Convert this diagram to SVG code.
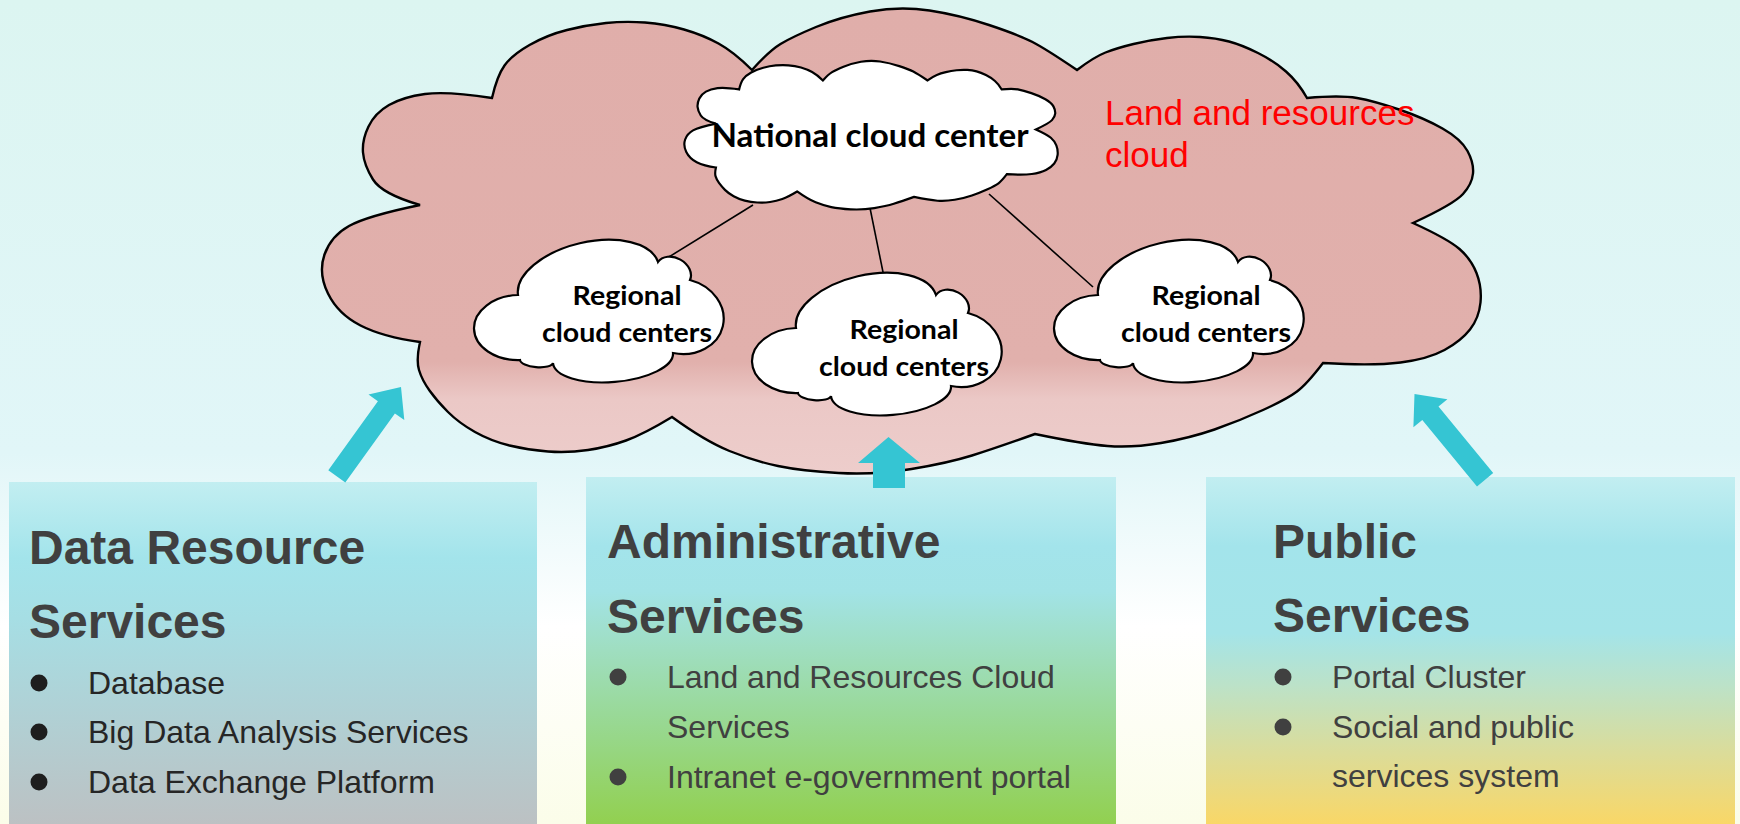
<svg xmlns="http://www.w3.org/2000/svg" width="1740" height="824" viewBox="0 0 1740 824">
<defs>
<linearGradient id="bg" x1="0" y1="0" x2="0" y2="1">
<stop offset="0" stop-color="#dcf5f1"/>
<stop offset="0.55" stop-color="#e1f6f8"/>
<stop offset="0.76" stop-color="#ffffff"/>
<stop offset="1" stop-color="#fbfde9"/>
</linearGradient>
<linearGradient id="bigFill" gradientUnits="userSpaceOnUse" x1="0" y1="7" x2="0" y2="474">
<stop offset="0" stop-color="#e0aeaa"/>
<stop offset="0.76" stop-color="#e1b0ac"/>
<stop offset="0.84" stop-color="#ebc8c6"/>
<stop offset="1" stop-color="#edcdcb"/>
</linearGradient>
<linearGradient id="g1" x1="0" y1="0" x2="0" y2="1">
<stop offset="0" stop-color="#c2eef1"/>
<stop offset="0.22" stop-color="#a3e4eb"/>
<stop offset="0.4" stop-color="#a6dee4"/>
<stop offset="1" stop-color="#bcc1c3"/>
</linearGradient>
<linearGradient id="g2" x1="0" y1="0" x2="0" y2="1">
<stop offset="0" stop-color="#c2eef1"/>
<stop offset="0.2" stop-color="#a3e4eb"/>
<stop offset="0.33" stop-color="#a2e3e6"/>
<stop offset="0.5" stop-color="#9fdec0"/>
<stop offset="0.75" stop-color="#97d789"/>
<stop offset="1" stop-color="#92d050"/>
</linearGradient>
<linearGradient id="g3" x1="0" y1="0" x2="0" y2="1">
<stop offset="0" stop-color="#c2eef1"/>
<stop offset="0.2" stop-color="#a3e4eb"/>
<stop offset="0.45" stop-color="#a4e4e8"/>
<stop offset="0.6" stop-color="#bce2c8"/>
<stop offset="0.8" stop-color="#dcdc98"/>
<stop offset="1" stop-color="#f9d767"/>
</linearGradient>
<path id="cloudShape" d="M 420,342 Q 383,337 360.5,325.5 Q 338,314 328,293.5 Q 318,273 324.5,254.5 Q 331,236 349,226 Q 367,216 420,205 Q 382,194 373,179.5 Q 364,165 363,152.5 Q 362,140 368.5,126.5 Q 375,113 389,105 Q 403,97 425,94 Q 447,91 492,98 Q 497,76 504.5,65.5 Q 512,55 529.5,45 Q 547,35 567,30 Q 587,25 606,23 Q 625,21 645,22.5 Q 665,24 684,29.5 Q 703,35 718.5,43.5 Q 734,52 752,70 Q 769,51 780.5,44 Q 792,37 816,27 Q 840,17 870,11.5 Q 900,6 929.5,10.5 Q 959,15 989,25 Q 1019,35 1032.5,42 Q 1046,49 1077,70 Q 1094,57 1105.5,52.5 Q 1117,48 1133.5,44 Q 1150,40 1167,38 Q 1184,36 1200,37 Q 1216,38 1229,41.5 Q 1242,45 1258,53 Q 1274,61 1286,71.5 Q 1298,82 1307,98 Q 1340,95 1357,98 Q 1374,101 1399,109.5 Q 1424,118 1442.5,128.5 Q 1461,139 1467.5,151 Q 1474,163 1473,173.5 Q 1472,184 1463,194 Q 1454,204 1413,223 Q 1448,239 1459.5,249 Q 1471,259 1476.5,273 Q 1482,287 1480.5,302.5 Q 1479,318 1470,329.5 Q 1461,341 1444.5,350 Q 1428,359 1400.5,362.5 Q 1373,366 1323,363 Q 1307,384 1297,391.5 Q 1287,399 1263,410 Q 1239,421 1214.5,429.5 Q 1190,438 1161,443 Q 1132,448 1107.5,446 Q 1083,444 1035,434 Q 996,448 972,455.5 Q 948,463 911.5,469 Q 875,475 838.5,473 Q 802,471 778,466 Q 754,461 729.5,451 Q 705,441 672,417 Q 644,434 626,440.5 Q 608,447 588,450 Q 568,453 548,451.5 Q 528,450 509.5,445.5 Q 491,441 475,432 Q 459,423 448,412 Q 437,401 429.5,390.5 Q 422,380 419,370 Q 416,360 420,342 Z"/>
<path id="regCloud" d="M 44,53 A 72 38 -13.3 0 1 184,20 A 18.4 14 29.4 0 1 216,38 A 37.5 44 103.1 0 1 199,111 A 60.2 24 175.2 0 1 79,121 A 16.6 6 185.2 0 1 46,118 A 32.5 45 268.2 0 1 44,53 Z"/>
</defs>
<style>
.cloud{fill:#ffffff;stroke:#000000;stroke-width:2.2}
.ctext{font-family:Lato,"Open Sans","Liberation Sans",sans-serif;font-weight:bold;fill:#000000;text-anchor:middle}
.title{font-family:"Liberation Sans",Arial,sans-serif;font-weight:bold;font-size:48px;fill:#404040}
.item{font-family:"Liberation Sans",Arial,sans-serif;font-size:32px;fill:#404040}
.item1{font-family:"Liberation Sans",Arial,sans-serif;font-size:32px;fill:#262626}
.dot{fill:#404040}
.dot1{fill:#1e1e1e}
.arrow{fill:#35c5d3}
.link{stroke:#000000;stroke-width:1.6;fill:none}
.red{font-family:"Liberation Sans",Arial,sans-serif;font-size:35px;fill:#ff0000}
</style>
<rect x="0" y="0" width="1740" height="824" fill="url(#bg)"/>

<g id="land-resources-cloud">
<use href="#cloudShape" fill="url(#bigFill)" stroke="#000000" stroke-width="2.4"/>
<text class="red" x="1105" y="125">Land and resources</text>
<text class="red" x="1105" y="167">cloud</text>
</g>

<g id="connectors">
<line class="link" x1="753" y1="205" x2="664" y2="260"/>
<line class="link" x1="870" y1="208" x2="884" y2="277"/>
<line class="link" x1="989" y1="194" x2="1093" y2="287"/>
</g>

<g id="national-cloud-center">
<use href="#cloudShape" transform="translate(580.6,58.1) scale(0.3222,0.3198)" fill="#ffffff" stroke="#000000" stroke-width="6.8"/>
<text class="ctext" x="870" y="147" font-size="32" textLength="317" lengthAdjust="spacingAndGlyphs">National cloud center</text>
</g>

<g id="regional-left" transform="translate(474,242)">
<use href="#regCloud" class="cloud"/>
<text class="ctext" x="153" y="63" font-size="27" textLength="109" lengthAdjust="spacingAndGlyphs">Regional</text>
<text class="ctext" x="153" y="100" font-size="27" textLength="170" lengthAdjust="spacingAndGlyphs">cloud centers</text>
</g>

<g id="regional-middle" transform="translate(752,275)">
<use href="#regCloud" class="cloud"/>
<text class="ctext" x="152" y="64" font-size="27" textLength="109" lengthAdjust="spacingAndGlyphs">Regional</text>
<text class="ctext" x="152" y="101" font-size="27" textLength="170" lengthAdjust="spacingAndGlyphs">cloud centers</text>
</g>

<g id="regional-right" transform="translate(1054,242)">
<use href="#regCloud" class="cloud"/>
<text class="ctext" x="152" y="63" font-size="27" textLength="109" lengthAdjust="spacingAndGlyphs">Regional</text>
<text class="ctext" x="152" y="100" font-size="27" textLength="170" lengthAdjust="spacingAndGlyphs">cloud centers</text>
</g>

<g id="data-resource-services">
<rect x="9" y="482" width="528" height="342" fill="url(#g1)"/>
<text class="title" x="29" y="564">Data Resource</text>
<text class="title" x="29" y="638">Services</text>
<circle class="dot1" cx="39" cy="683" r="8.5"/>
<circle class="dot1" cx="39" cy="732" r="8.5"/>
<circle class="dot1" cx="39" cy="782" r="8.5"/>
<text class="item1" x="88" y="694">Database</text>
<text class="item1" x="88" y="743">Big Data Analysis Services</text>
<text class="item1" x="88" y="793">Data Exchange Platform</text>
</g>

<g id="administrative-services">
<rect x="586" y="477" width="530" height="347" fill="url(#g2)"/>
<text class="title" x="607" y="558">Administrative</text>
<text class="title" x="607" y="633">Services</text>
<circle class="dot" cx="618" cy="677" r="8.5"/>
<circle class="dot" cx="618" cy="777" r="8.5"/>
<text class="item" x="667" y="688">Land and Resources Cloud</text>
<text class="item" x="667" y="738">Services</text>
<text class="item" x="667" y="788">Intranet e-government portal</text>
</g>

<g id="public-services">
<rect x="1206" y="477" width="529" height="347" fill="url(#g3)"/>
<text class="title" x="1273" y="558">Public</text>
<text class="title" x="1273" y="632">Services</text>
<circle class="dot" cx="1283" cy="677" r="8.5"/>
<circle class="dot" cx="1283" cy="727" r="8.5"/>
<text class="item" x="1332" y="688">Portal Cluster</text>
<text class="item" x="1332" y="738">Social and public</text>
<text class="item" x="1332" y="787">services system</text>
</g>

<g id="arrows">
<polygon class="arrow" points="401,387 404.3,420.1 394.9,413.4 345.3,482.4 328.3,470.2 377.9,401.2 368.5,394.5"/>
<polygon class="arrow" points="888.5,437 920,463 905,463 905,488 873,488 873,463 858,463"/>
<polygon class="arrow" points="1414.5,394 1447.4,399.3 1438.5,406.6 1493.2,473 1477,486.4 1422.3,420 1413.4,427.3"/>
</g>
</svg>
